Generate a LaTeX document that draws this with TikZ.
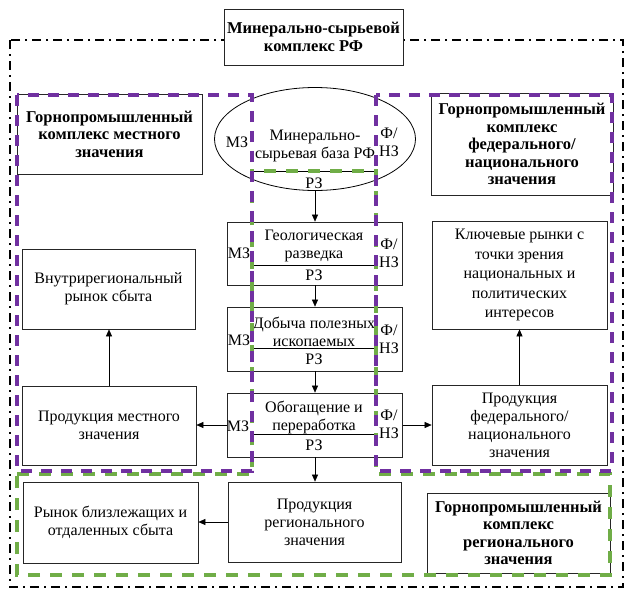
\documentclass[tikz,border=0pt]{standalone}
\usepackage{fontspec}
\setmainfont{Liberation Serif}
\usetikzlibrary{arrows.meta,shapes.geometric}
\definecolor{purp}{RGB}{112,48,160}
\definecolor{grn}{RGB}{112,173,71}
\begin{document}
\begin{tikzpicture}[x=1pt,y=-1pt,
  box/.style={draw=black!85, line width=0.7pt, fill=white, align=center, inner sep=0pt,
    font=\fontsize{16}{18}\selectfont},
  hdr/.style={box, font=\fontsize{16.5}{17.5}\selectfont\bfseries},
  lbl/.style={inner sep=0pt, align=center, font=\fontsize{16}{18}\selectfont},
  arr/.style={-{Triangle[length=7pt,width=6pt]}, line width=0.6pt},
  purpline/.style={draw=purp, line width=3.5pt, dash pattern=on 11pt off 9pt},
  grnline/.style={draw=grn, line width=3.5pt, dash pattern=on 12pt off 10pt},
  outerline/.style={draw=black, line width=2.4pt, dash pattern=on 9pt off 5pt on 2pt off 5pt}
]
\useasboundingbox (0,0) rectangle (635,592);
% outer dash-dot frame
\draw[outerline] (10,40) rectangle (623,587);
\node[hdr, minimum width=179pt, minimum height=56pt] (title) at (313.5,37) {Минерально-сырьевой\\комплекс РФ};

% side boxes
\node[hdr, minimum width=185pt, minimum height=80pt] (lhdr) at (109.5,134) {Горнопромышленный\\комплекс местного\\значения};
\node[hdr, minimum width=182pt, minimum height=102pt] (rhdr) at (522,144) {Горнопромышленный\\комплекс\\федерального/\\национального\\значения};
\node[hdr, minimum width=183pt, minimum height=80pt] (ghdr) at (518.5,533) {Горнопромышленный\\комплекс\\регионального\\значения};
\node[box, minimum width=173pt, minimum height=80pt] (vnutr) at (108.5,289) {Внутрирегиональный\\рынок сбыта};
\node[box, minimum width=174pt, minimum height=79pt] (prodm) at (109,425.5) {Продукция местного\\значения};
\node[box, minimum width=175pt, minimum height=108pt, font=\fontsize{16}{19.5}\selectfont] (klyuch) at (519.5,275) {Ключевые рынки с\\точки зрения\\национальных и\\политических\\интересов};
\node[box, minimum width=175pt, minimum height=80pt] (prodf) at (519.5,425) {Продукция\\федерального/\\национального\\значения};
\node[box, minimum width=175pt, minimum height=81pt] (rynok) at (110.5,522.5) {Рынок близлежащих и\\отдаленных сбыта};
\node[box, minimum width=173pt, minimum height=80pt] (prodr) at (314.5,522) {Продукция\\регионального\\значения};

% central column
\node[ellipse, draw=black, line width=0.8pt, fill=white, minimum width=201pt, minimum height=103pt, inner sep=0pt] (ell) at (315,139) {};
\node[lbl] (ellt) at (315,146) {Минерально-\\сырьевая база РФ};
\node[lbl] (ellm) at (237,142) {МЗ};
\node[lbl] (ellf) at (389,142) {Ф/\\НЗ};
\node[lbl] (ellr) at (314,183) {РЗ};
\draw[line width=0.6pt] (252,171) -- (376,171);

\node[box, minimum width=175pt, minimum height=63pt] (geo) at (315,253.5) {};
\node[lbl] (geot) at (314,245.5) {Геологическая\\разведка};
\node[lbl] (geom) at (239,253) {МЗ};
\node[lbl] (geof) at (389,253) {Ф/\\НЗ};
\node[lbl] (geor) at (314,275.5) {РЗ};
\draw[line width=0.6pt] (252,265) -- (376,265);

\node[box, minimum width=175pt, minimum height=64pt] (dob) at (315,339) {};
\node[lbl] (dobt) at (314,332) {Добыча полезных\\ископаемых};
\node[lbl] (dobm) at (239,340) {МЗ};
\node[lbl] (dobf) at (389,339) {Ф/\\НЗ};
\node[lbl] (dobr) at (314,359.5) {РЗ};
\draw[line width=0.6pt] (252,348) -- (376,348);

\node[box, minimum width=175pt, minimum height=64pt] (obo) at (315,425) {};
\node[lbl] (obot) at (314,417) {Обогащение и\\переработка};
\node[lbl] (obom) at (238,426) {МЗ};
\node[lbl] (obof) at (389,424) {Ф/\\НЗ};
\node[lbl] (obor) at (314,445) {РЗ};
\draw[line width=0.6pt] (252,434) -- (376,434);

% regions
\draw[grnline] (17,474) -- (252,474) -- (252,171) -- (376,171) -- (376,474) -- (610,474) -- (610,575) -- (17,575) -- cycle;
\draw[purpline] (17,95) rectangle (252,471);
\draw[purpline] (376,95) rectangle (612,471);

% connectors
\draw[arr] (ell.south) -- (geo.north);
\draw[arr] (geo.south) -- (dob.north);
\draw[arr] (dob.south) -- (obo.north);
\draw[arr] (obo.south) -- (obo.south |- prodr.north);
\draw[arr] (obo.west) -- (obo.west -| prodm.east);
\draw[arr] (obo.east) -- (obo.east -| prodf.west);
\draw[arr] (prodm.north) -- (prodm.north |- vnutr.south);
\draw[arr] (prodf.north) -- (prodf.north |- klyuch.south);
\draw[arr] (prodr.west) -- (prodr.west -| rynok.east);
\end{tikzpicture}
\end{document}
